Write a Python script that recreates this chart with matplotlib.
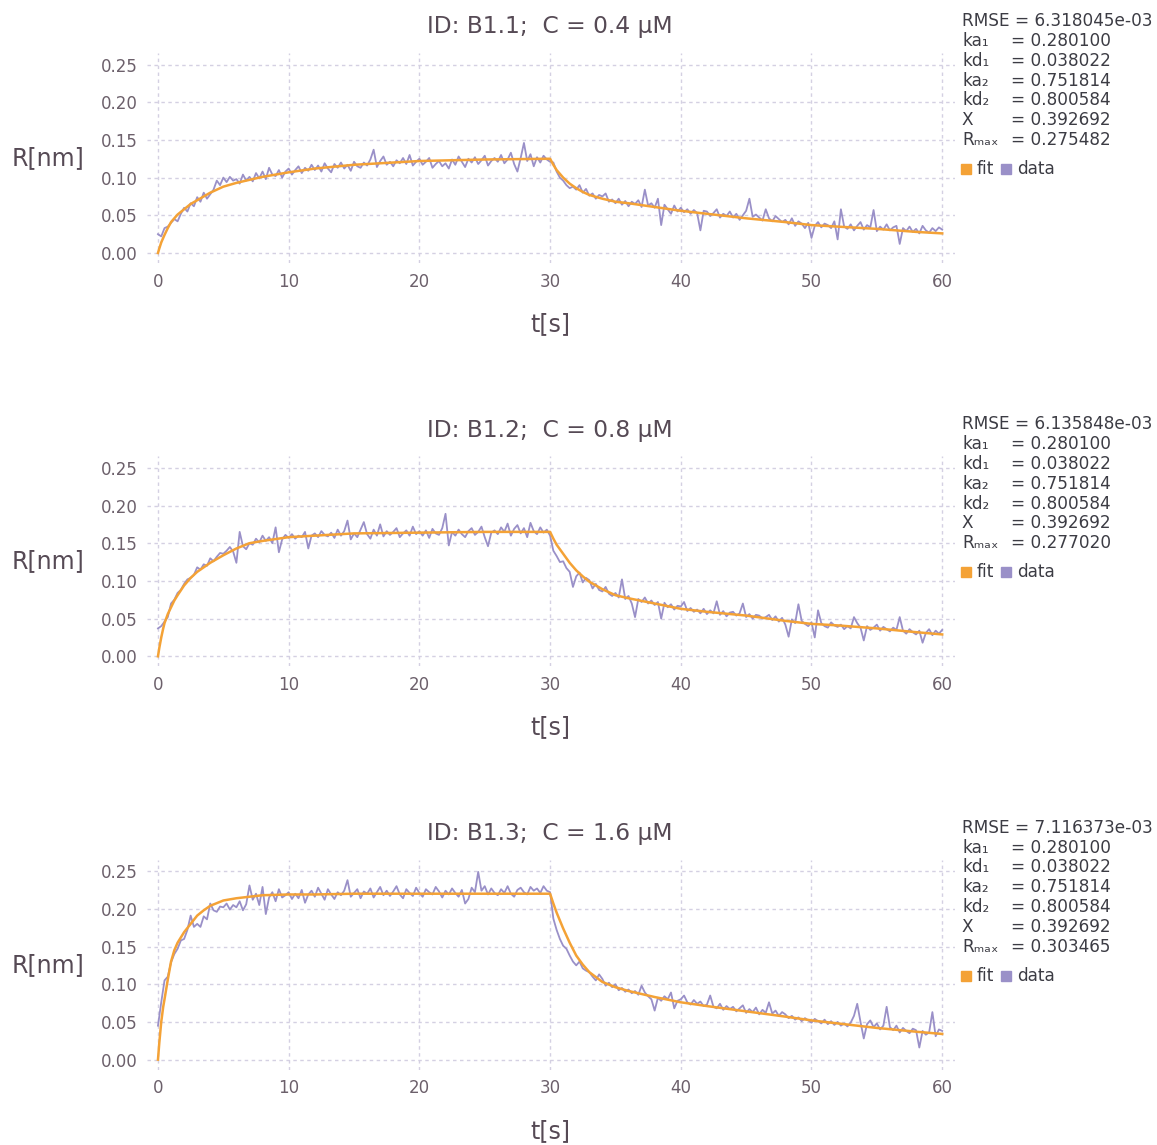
import numpy as np
import matplotlib
matplotlib.use('Agg')
import matplotlib.pyplot as plt
from matplotlib.patches import Rectangle

# ---------------- data (responses in units of 1e-3 nm) ----------------
t_data = np.arange(241) * 0.25          # 0 .. 60 s, 0.25 s step

data_b11 = [
    25, 22, 33, 35, 40, 45, 42, 52,
    60, 55, 66, 62, 74, 68, 80, 72,
    78, 84, 96, 90, 100, 94, 101, 96,
    98, 92, 104, 96, 101, 95, 106, 99,
    108, 98, 113, 104, 102, 110, 100, 108,
    112, 104, 110, 115, 106, 113, 109, 117,
    110, 116, 108, 119, 112, 107, 118, 113,
    120, 112, 117, 109, 121, 115, 113, 120,
    116, 124, 137, 114, 122, 128, 117, 121,
    115, 123, 119, 126, 118, 130, 116, 121,
    125, 117, 121, 126, 113, 118, 122, 115,
    119, 112, 124, 117, 128, 121, 114, 125,
    120, 127, 118, 123, 129, 116, 122, 126,
    121, 130, 119, 124, 133, 118, 108, 126,
    146, 122, 131, 115, 127, 120, 129, 124,
    121, 120, 108, 100, 96, 90, 86, 88,
    84, 90, 80, 85, 76, 79, 72, 77,
    75, 79, 68, 71, 66, 72, 64, 69,
    62, 68, 65, 70, 61, 84, 63, 66,
    60, 72, 37, 64, 58, 52, 63, 55,
    60, 54, 58, 52, 57, 53, 30, 56,
    55, 49, 53, 58, 47, 52, 49, 55,
    47, 52, 44, 50, 56, 72, 48, 51,
    47, 43, 58, 46, 42, 49, 45, 41,
    44, 38, 46, 36, 42, 39, 33, 40,
    20, 36, 41, 34, 39, 37, 33, 42,
    18, 58, 35, 32, 38, 30, 36, 41,
    31, 37, 34, 57, 29, 35, 31, 38,
    30, 34, 36, 12, 33, 29, 35, 28,
    32, 26, 36, 30, 27, 33, 29, 34,
    31]

data_b12 = [
    37, 40, 46, 52, 70, 75, 84, 88,
    96, 102, 104, 108, 118, 115, 122, 120,
    130, 126, 132, 137, 136, 140, 145, 139,
    124, 165, 146, 142, 150, 148, 156, 151,
    160, 153, 158, 150, 171, 138, 155, 161,
    157, 162, 156, 160, 158, 165, 143, 160,
    163, 158, 166, 161, 159, 164, 157, 168,
    160, 166, 180, 155, 163, 158, 168, 178,
    162, 156, 168, 160, 175, 159, 166, 161,
    165, 170, 158, 163, 167, 160, 172, 162,
    166, 160, 167, 157, 169, 163, 161, 170,
    189, 147, 165, 160, 168, 162, 158, 166,
    170, 161, 165, 172, 158, 146, 164, 167,
    162, 171, 165, 176, 160, 169, 174, 163,
    170, 158, 177, 166, 162, 171, 164, 168,
    160, 140, 133, 125, 126, 117, 112, 92,
    106, 111, 98, 104, 101, 90, 96, 88,
    86, 92, 83, 80, 84, 78, 102, 76,
    80, 70, 52, 76, 72, 78, 70, 74,
    68, 72, 50, 71, 65, 69, 62, 67,
    66, 72, 60, 64, 59, 62, 57, 63,
    56, 61, 57, 73, 55, 60, 53, 58,
    59, 54, 57, 70, 52, 56, 50, 55,
    54, 50, 52, 55, 48, 53, 46, 51,
    42, 26, 49, 44, 69, 47, 43, 40,
    45, 25, 61, 44, 40, 38, 45, 41,
    39, 42, 36, 40, 37, 52, 44, 38,
    21, 40, 35, 38, 42, 34, 39, 36,
    33, 38, 35, 52, 34, 30, 36, 32,
    29, 34, 18, 31, 36, 28, 34, 30,
    35]

data_b13 = [
    45, 76, 105, 110, 129, 140, 147, 158,
    160, 172, 191, 176, 180, 176, 190, 186,
    207, 198, 196, 203, 202, 207, 199, 205,
    202, 210, 198, 206, 231, 212, 220, 205,
    229, 193, 215, 222, 210, 226, 215, 218,
    222, 213, 220, 214, 225, 208, 219, 224,
    216, 228, 220, 212, 226, 219, 213, 222,
    218, 224, 238, 216, 221, 226, 214, 223,
    220, 227, 215, 222, 229, 218, 224, 217,
    223, 230, 219, 214, 226, 221, 217, 228,
    221, 216, 226, 222, 219, 229, 223, 215,
    224, 219, 227, 221, 216, 225, 207, 213,
    228, 222, 249, 224, 230, 219, 227, 221,
    218, 226, 221, 230, 220, 216, 225, 228,
    222, 219, 229, 224, 227, 221, 230, 224,
    222, 187, 172, 160, 151, 147, 138, 130,
    125, 130, 121, 118, 116, 110, 105, 113,
    107, 98, 102, 96, 100, 92, 95, 90,
    93, 88, 91, 86, 98, 89, 84, 80,
    65, 82, 78, 84, 80, 89, 68, 78,
    80, 85, 76, 73, 79, 74, 77, 71,
    73, 85, 70, 68, 74, 66, 71, 67,
    70, 64, 68, 72, 62, 67, 63, 69,
    60, 66, 62, 76, 61, 65, 58, 63,
    60, 55, 58, 53, 56, 51, 55, 52,
    49, 54, 51, 48, 53, 47, 51, 46,
    50, 45, 48, 44, 49, 58, 74, 50,
    28, 47, 52, 43, 48, 40, 45, 70,
    43, 39, 45, 36, 42, 38, 35, 41,
    39, 16, 38, 33, 36, 63, 31, 40,
    38]

t_fit = [0, 0.1, 0.25, 0.4, 0.5, 0.75, 1, 1.25, 1.5, 2, 2.5, 3, 3.5, 4, 5, 6, 7, 8, 10, 12, 15, 20, 25, 30,
         30.25, 30.5, 31, 31.5, 32, 32.5, 33, 34, 35, 36, 38, 40, 42, 45, 48, 50, 52, 55, 58, 60]
fit_b11 = [0, 6, 14, 20, 24, 33, 41, 46, 51, 58, 65, 70, 75, 80, 88, 93, 97, 101, 107, 112, 117, 122, 124, 125,
           117, 110, 100, 92, 86, 81, 77, 72, 68, 66, 61, 56, 52, 46, 41, 37, 35, 32, 28, 26]
fit_b12 = [0, 11, 25, 37, 44, 56, 65, 74, 81, 94, 104, 112, 118, 124, 134, 143, 150, 153, 158, 160, 163, 164, 165, 165,
           156, 148, 136, 124, 114, 106, 99, 89, 81, 77, 70, 63, 59, 54, 47, 43, 41, 37, 32, 29]
fit_b13 = [0, 22, 50, 70, 80, 106, 130, 145, 155, 169, 180, 191, 198, 204, 211, 214, 216, 218, 219, 219, 220, 220, 220, 220,
           207, 195, 174, 155, 138, 126, 116, 103, 96, 91, 83, 76, 71, 64, 57, 52, 48, 42, 37, 34]

titles = ["ID: B1.1;  C = 0.4 \u03bcM", "ID: B1.2;  C = 0.8 \u03bcM", "ID: B1.3;  C = 1.6 \u03bcM"]
rmse = ["6.318045e-03", "6.135848e-03", "7.116373e-03"]
rmax = ["0.275482", "0.277020", "0.303465"]
par_names = ["ka\u2081", "kd\u2081", "ka\u2082", "kd\u2082", "X"]
par_values = ["0.280100", "0.038022", "0.751814", "0.800584", "0.392692"]

# ---------------- style ----------------
W, H = 1157, 1145
c_fit = '#f4a236'
c_data = '#9a90c8'
c_grid = '#d4d0e2'
c_tick = '#6c606b'
c_title = '#564a55'
c_key = '#3c3c44'

plt.rcParams['font.family'] = ['DejaVu Sans']

fig = plt.figure(figsize=(W / 100, H / 100), dpi=100)
fig.patch.set_facecolor('white')


def fx(px):
    return px / W


def fy(py):
    return 1 - py / H


datasets = [data_b11, data_b12, data_b13]
fits = [fit_b11, fit_b12, fit_b13]

for i in range(3):
    off = i * 403.3
    top, bot = 53 + off, 263 + off
    ax = fig.add_axes([fx(147), fy(bot), fx(955) - fx(147), (bot - top) / H])
    ax.set_xlim(-0.84, 60.98)
    ax.set_ylim(-10 / 754, 200 / 754)
    for s in ax.spines.values():
        s.set_visible(False)
    ax.set_xticks([0, 10, 20, 30, 40, 50, 60])
    ax.set_yticks([0, 0.05, 0.10, 0.15, 0.20, 0.25])
    ax.set_yticklabels(["0.00", "0.05", "0.10", "0.15", "0.20", "0.25"])
    ax.tick_params(length=0, labelsize=12, colors=c_tick, pad=7)
    ax.grid(True, color=c_grid, linestyle=(0, (2.5, 2.5)), linewidth=1)
    ax.set_axisbelow(True)

    ax.plot(t_data, np.array(datasets[i]) / 1000, color=c_data, lw=1.3, zorder=2)
    ax.plot(t_fit, np.array(fits[i]) / 1000, color=c_fit, lw=1.8, zorder=3)

    fig.text(fx(550), fy(27 + off), titles[i], ha='center', va='center',
             fontsize=16.8, color=c_title)
    fig.text(fx(48), fy(158 + off), "R[nm]", ha='center', va='center',
             fontsize=17, color=c_title)
    fig.text(fx(550), fy(324 + off), "t[s]", ha='center', va='center',
             fontsize=17, color=c_title)

    # key / parameter block
    fig.text(fx(962), fy(21 + off), "RMSE = " + rmse[i], ha='left', va='center',
             fontsize=12.2, color=c_key)
    for k, (nm, val) in enumerate(zip(par_names + ["R\u2098\u2090\u2093"], par_values + [rmax[i]])):
        yy = 41 + 19.8 * k + off
        fig.text(fx(962), fy(yy), nm, ha='left', va='center', fontsize=12.2, color=c_key)
        fig.text(fx(1011), fy(yy), "= " + val, ha='left', va='center', fontsize=12.2, color=c_key)
    yk = 169 + off
    fig.patches.append(Rectangle((fx(961), fy(yk + 5)), 10 / W, 10 / H,
                                 transform=fig.transFigure, color=c_fit))
    fig.text(fx(977), fy(yk), "fit", ha='left', va='center', fontsize=12.2, color=c_key)
    fig.patches.append(Rectangle((fx(1001), fy(yk + 5)), 10 / W, 10 / H,
                                 transform=fig.transFigure, color=c_data))
    fig.text(fx(1017), fy(yk), "data", ha='left', va='center', fontsize=12.2, color=c_key)

fig.savefig('out.png', dpi=100)
